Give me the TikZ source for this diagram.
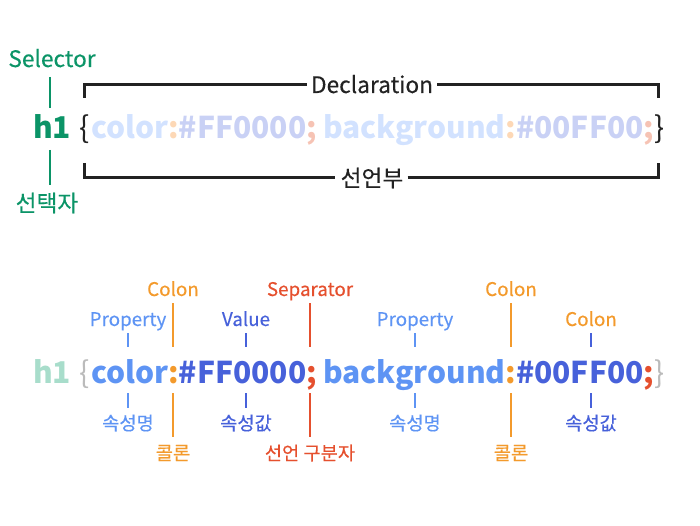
\documentclass[tikz,border=0pt]{standalone}
\usepackage{fontspec}
\setmainfont{Noto Sans CJK KR}
\newfontfamily\medfont[FakeBold=0.35]{Noto Sans CJK KR}
\usetikzlibrary{calc}
\definecolor{selgreen}{HTML}{0B9467}
\definecolor{ink}{HTML}{222222}
\definecolor{lprop}{HTML}{D2E2FF}
\definecolor{lcolon}{HTML}{FDD8B6}
\definecolor{lval}{HTML}{C9D1F5}
\definecolor{lsemi}{HTML}{F6C3B4}
\definecolor{lgreen}{HTML}{A8DDCB}
\definecolor{lbrace}{HTML}{BBBBBB}
\definecolor{cprop}{HTML}{5E94F4}
\definecolor{ccolon}{HTML}{F39A2C}
\definecolor{cval}{HTML}{4761DA}
\definecolor{csemi}{HTML}{E5502E}
\tikzset{
  code/.style={inner sep=0pt, outer sep=0pt, anchor=base west, font=\fontsize{30}{34}\selectfont\bfseries},
  brace/.style={inner sep=0pt, outer sep=0pt, anchor=base west, font=\fontsize{30}{34}\selectfont},
  lbl/.style={inner sep=0pt, anchor=base, font=\fontsize{18.8}{22}\medfont},
  klbl/.style={inner sep=0pt, anchor=center, font=\fontsize{18.7}{22}\medfont},
  biglbl/.style={inner sep=0pt, anchor=base, font=\fontsize{22.7}{26}\medfont},
  bigklbl/.style={inner sep=0pt, anchor=center, font=\fontsize{22.7}{26}\medfont},
  tick/.style={line width=2pt},
  bracketline/.style={line width=3pt, ink},
}
\begin{document}
\begin{tikzpicture}[x=1pt,y=-1pt]
\useasboundingbox (0,0) rectangle (700,526);
% ---------- top part ----------
\node[biglbl, selgreen] (selector) at (52,67) {Selector};
\node[bigklbl, selgreen] (seltxt) at (47,203) {선택자};
\node[code, selgreen] (th1) at (33,139) {h1};
\draw[tick, selgreen] (50,77) -- (50,108);
\draw[tick, selgreen] (50,150) -- (50,185);
\node[brace, ink] (tob) at (79,139) {\{};
\node[code, lprop] (tp1) at (91,139) {color};
\node[code, lcolon] (tc1) at (tp1.base east) {:};
\node[code, lval] (tv1) at (tc1.base east) {\#FF0000};
\node[code, lsemi] (ts1) at (tv1.base east) {;};
\node[code, lprop] (tp2) at (323,139) {background};
\node[code, lcolon] (tc2) at (tp2.base east) {:};
\node[code, lval] (tv2) at (tc2.base east) {\#00FF00};
\node[code, lsemi] (ts2) at (tv2.base east) {;};
\node[brace, ink] (tcb) at (ts2.base east) {\}};
% brackets
\node[biglbl, ink] (decl) at (372,93) {Declaration};
\node[bigklbl, ink] (decl2) at (372,178) {선언부};
\coordinate (b1) at (84,98);
\coordinate (b2) at (658,98);
\coordinate (b3) at (84,163);
\coordinate (b4) at (658,163);
\draw[bracketline] (b1) |- ($(decl.west)+(-4,0)$ |- 0,84);
\draw[bracketline] ($(decl.east)+(4,0)$ |- 0,84) -| (b2);
\draw[bracketline] (b3) |- ($(decl2.west)+(-5,0)$ |- 0,177);
\draw[bracketline] ($(decl2.east)+(4,0)$ |- 0,177) -| (b4);
% ---------- bottom part ----------
\node[code, lgreen] (bh1) at (33,383) {h1};
\node[brace, lbrace] (bob) at (79,383) {\{};
\node[code, cprop] (bp1) at (91,383) {color};
\node[code, ccolon] (bc1) at (bp1.base east) {:};
\node[code, cval] (bv1) at (bc1.base east) {\#FF0000};
\node[code, csemi] (bs1) at (bv1.base east) {;};
\node[code, cprop] (bp2) at (323,383) {background};
\node[code, ccolon] (bc2) at (bp2.base east) {:};
\node[code, cval] (bv2) at (bc2.base east) {\#00FF00};
\node[code, csemi] (bs2) at (bv2.base east) {;};
\node[brace, lbrace] (bcb) at (bs2.base east) {\}};
% upper labels
\node[lbl, cprop] (lp1) at (128,326) {Property};
\node[lbl, ccolon] (lc1) at (173,296) {Colon};
\node[lbl, cval] (lv1) at (246,326) {Value};
\node[lbl, csemi] (ls1) at (310,296) {Separator};
\node[lbl, cprop] (lp2) at (415,326) {Property};
\node[lbl, ccolon] (lc2) at (511,296) {Colon};
\node[lbl, ccolon] (lc3) at (591,326) {Colon};
% lower labels
\node[klbl, cprop] (kp1) at (128,423) {속성명};
\node[klbl, ccolon] (kc1) at (173,453) {콜론};
\node[klbl, cval] (kv1) at (246,423) {속성값};
\node[klbl, csemi] (ks1) at (310,453) {선언 구분자};
\node[klbl, cprop] (kp2) at (415,423) {속성명};
\node[klbl, ccolon] (kc2) at (511,453) {콜론};
\node[klbl, cval] (kv2) at (591,423) {속성값};
% ticks
\foreach \n/\c/\t in {lp1/cprop/333, lc1/ccolon/303, lv1/cval/333, ls1/csemi/303, lp2/cprop/333, lc2/ccolon/303, lc3/cval/333}{
  \draw[tick, \c] (\n.base |- 0,\t) -- (\n.base |- 0,347);
}
\foreach \n/\c/\b in {kp1/cprop/408, kc1/ccolon/437, kv1/cval/408, ks1/csemi/437, kp2/cprop/408, kc2/ccolon/437, kv2/cval/408}{
  \draw[tick, \c] (\n.center |- 0,393) -- (\n.center |- 0,\b);
}
\end{tikzpicture}
\end{document}
